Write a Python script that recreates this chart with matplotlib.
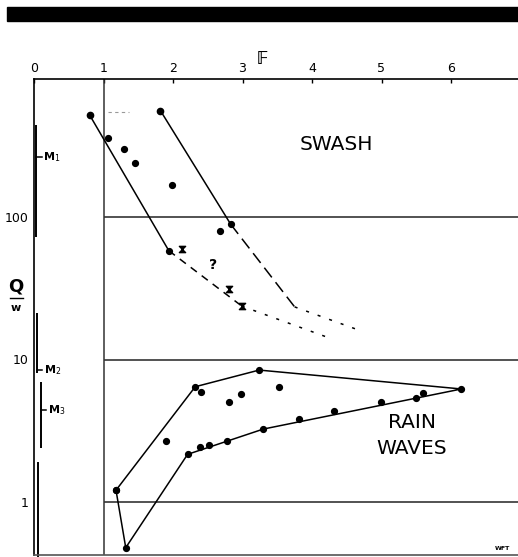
import matplotlib
matplotlib.use("Agg")
import matplotlib.pyplot as plt
from matplotlib.patches import Rectangle
from matplotlib.path import Path

W, H = 518, 557
fig = plt.figure(figsize=(W / 100, H / 100), dpi=100)

# ---- data ----
x_ticks = [0, 1, 2, 3, 4, 5, 6]
y_ticks = [1, 10, 100]
y_tick_labels = ["1", "10", "100"]

swash_left_x = [0.80, 1.94]
swash_left_y = [520, 58]
swash_right_x = [1.82, 2.83]
swash_right_y = [557, 89]
swash_dash_upper_x = [2.83, 3.75]
swash_dash_upper_y = [89, 23.4]
swash_dot_upper_x = [3.75, 4.64]
swash_dot_upper_y = [23.4, 16.3]
swash_dash_lower_x = [1.94, 2.99]
swash_dash_lower_y = [58, 23.7]
swash_dot_lower_x = [2.99, 4.26]
swash_dot_lower_y = [23.7, 14.1]
swash_top_x = [0.80, 1.82]
swash_top_y = [520, 557]
swash_dots_x = [1.07, 1.30, 1.46, 1.99, 2.67, 1.94, 2.83]
swash_dots_y = [360, 301, 240, 169, 80, 58, 89]
swash_cross_x = [2.13, 2.81, 2.99]
swash_cross_y = [60, 31.4, 23.7]
stray_x = [1.07, 1.36]
stray_y = [546, 546]

rain_outline_x = [1.18, 2.32, 3.24, 6.15, 3.30, 2.21, 1.32, 1.18]
rain_outline_y = [1.21, 6.44, 8.43, 6.21, 3.25, 2.16, 0.478, 1.21]
rain_dots_x = [2.40, 2.80, 2.98, 3.52, 1.90, 2.39, 2.52, 2.77,
               3.81, 4.32, 4.99, 5.49, 5.60]
rain_dots_y = [5.94, 5.01, 5.73, 6.44, 2.68, 2.44, 2.51, 2.68,
               3.80, 4.33, 5.06, 5.40, 5.85]

m_labels = ["M$_1$", "M$_2$", "M$_3$"]
m_x = [0.029, 0.039, 0.096]
m_low = [72, 8.0, 2.39]
m_high = [442, 21.2, 6.95]
m_mark = [264, 8.4, 4.43]
extra_bar_x = 0.053
extra_bar_low, extra_bar_high = 0.42, 1.88

# ---- axes geometry ----
px_per_x = 69.5
x0_px = 34
top_px, bot_px = 79, 555
xmax = (W - x0_px) / px_per_x
def ylog(py):
    return 10 ** (2 - (py - 217) / 142.5)

ax = fig.add_axes([x0_px / W, (H - bot_px) / H, (W - x0_px) / W, (bot_px - top_px) / H])
ax.set_yscale("log")
ax.set_xlim(0, xmax)
ax.set_ylim(ylog(bot_px), ylog(top_px))
ax.patch.set_alpha(0)

ax.spines["right"].set_visible(False)
ax.spines["top"].set_linewidth(1.2)
ax.spines["left"].set_linewidth(1.2)
ax.spines["bottom"].set_linewidth(1.2)
ax.spines["bottom"].set_color("#555555")

ax.xaxis.tick_top()
ax.set_xticks(x_ticks)
ax.set_xticklabels([str(v) for v in x_ticks])
ax.tick_params(axis="x", direction="in", length=3, width=1.0, pad=3, labelsize=9)
ax.set_yticks(y_ticks)
ax.set_yticklabels(y_tick_labels)
ax.yaxis.set_minor_locator(matplotlib.ticker.NullLocator())
ax.tick_params(axis="y", length=0, pad=4, labelsize=9)

# reference lines
ax.hlines(y_ticks, 1, xmax, colors="#444444", linewidth=1.3)
ax.axvline(1, color="#333333", linewidth=1.1)

lk = dict(color="black", linewidth=1.1)
# swash
ax.plot(swash_left_x, swash_left_y, **lk)
ax.plot(swash_right_x, swash_right_y, **lk)
ax.plot(swash_dash_upper_x, swash_dash_upper_y, dashes=(8, 4), **lk)
ax.plot(swash_dot_upper_x, swash_dot_upper_y, dashes=(2, 6), **lk)
ax.plot(swash_dash_lower_x, swash_dash_lower_y, dashes=(5, 4), **lk)
ax.plot(swash_dot_lower_x, swash_dot_lower_y, dashes=(2, 6), **lk)
ax.plot(stray_x, stray_y, color="#999999", linewidth=0.8, dashes=(3, 3))
ax.plot(swash_top_x, swash_top_y, "o", color="black", markersize=4.5)
ax.plot(swash_dots_x, swash_dots_y, "o", color="black", markersize=4.2)
hourglass = Path([(-1, 1), (1, 1), (-1, -1), (1, -1), (-1, 1)],
                 [Path.MOVETO, Path.LINETO, Path.LINETO, Path.LINETO, Path.CLOSEPOLY])
ax.plot(swash_cross_x, swash_cross_y, linestyle="none", marker=hourglass,
        color="black", markersize=4.5)
ax.text(2.58, 46, "?", fontsize=10, fontweight="bold", ha="center", va="center")
ax.text((336 - x0_px) / px_per_x, ylog(145), "SWASH", fontsize=14.5,
        ha="center", va="center")

# rain waves
ax.plot(rain_outline_x, rain_outline_y, marker="o", markersize=4.2, **lk)
ax.plot(rain_dots_x, rain_dots_y, "o", color="black", markersize=4.2)
ax.text((412 - x0_px) / px_per_x, ylog(423), "RAIN", fontsize=14.5,
        ha="center", va="center")
ax.text((412 - x0_px) / px_per_x, ylog(448), "WAVES", fontsize=14.5,
        ha="center", va="center")

# M ranges on left
for lab, xx, lo, hi, mk in zip(m_labels, m_x, m_low, m_high, m_mark):
    ax.plot([xx, xx], [lo, hi], color="black", linewidth=1.4, solid_capstyle="butt")
    ax.plot([xx, xx + 0.08], [mk, mk], color="black", linewidth=1.1)
    ax.text(xx + 0.1, mk, lab, fontsize=8, fontweight="bold", ha="left", va="center")
ax.plot([extra_bar_x, extra_bar_x], [extra_bar_low, extra_bar_high], color="black",
        linewidth=1.4, clip_on=False)

# Q/w label
fig.text(16 / W, 1 - 287 / H, "Q", fontsize=13, fontweight="bold", ha="center", va="center")
fig.add_artist(plt.Line2D([10 / W, 23 / W], [1 - 298 / H, 1 - 298 / H],
                          color="black", linewidth=1.0))
fig.text(16 / W, 1 - 308 / H, "w", fontsize=8, fontweight="bold", ha="center", va="center")

# F label
fig.text(263 / W, 1 - 59 / H, "\U0001D53D", fontsize=12.5, fontweight="bold",
         ha="center", va="center", family=["DejaVu Sans", "Noto Sans"])

# WFT
fig.text(502 / W, 1 - 548 / H, "WFT", fontsize=4.5, fontweight="bold", ha="center", va="center")

# black bar at top
fig.patches.append(Rectangle((7 / W, 1 - 21 / H), (W - 7) / W, 14 / H,
                             transform=fig.transFigure, color="black"))

fig.savefig("out.png", dpi=100)
